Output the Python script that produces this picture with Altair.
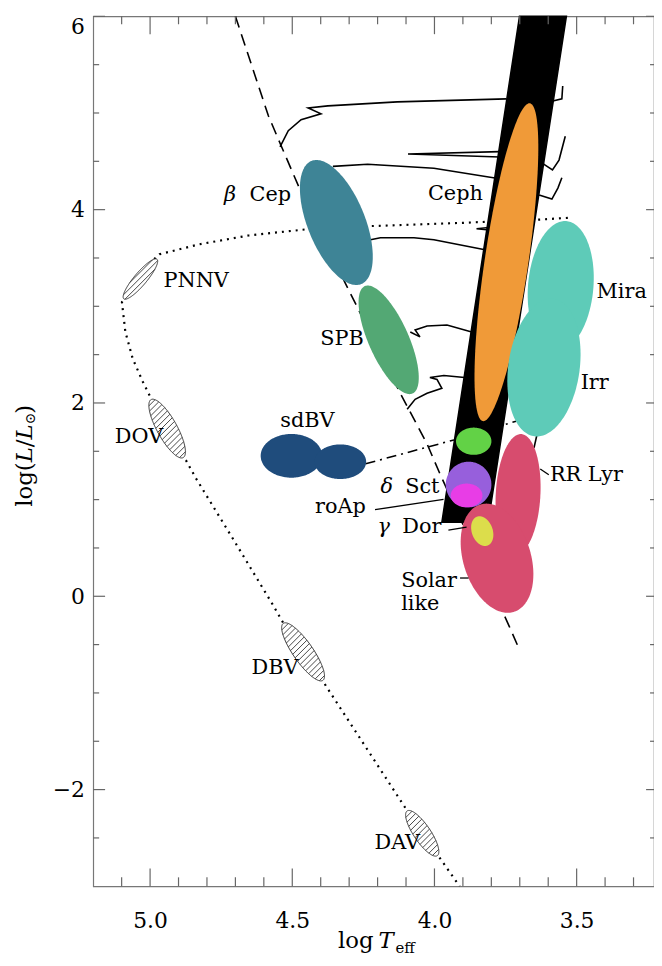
import altair as alt
import numpy as np
import pandas as pd

FONT = "DejaVu Serif"
W, H = 566, 878
T_MAX, T_MIN = 5.2, 3.228
L_MIN, L_MAX = -3.0, 6.0
KX = W / (T_MAX - T_MIN)
KY = H / (L_MAX - L_MIN)

XS = alt.Scale(domain=[T_MAX, T_MIN], nice=False, zero=False)
YS = alt.Scale(domain=[L_MIN, L_MAX], nice=False, zero=False)

# ---------------- axis ticks ----------------
x_major = [5.0, 4.5, 4.0, 3.5]
x_minor = [5.1, 4.9, 4.8, 4.7, 4.6, 4.4, 4.3, 4.2, 4.1, 3.9, 3.8, 3.7, 3.6, 3.4, 3.3]
y_major = [6, 4, 2, 0, -2]
y_minor = [5.5, 5, 4.5, 3.5, 3, 2.5, 1.5, 1, 0.5, -0.5, -1, -1.5, -2.5]

# ---------------- instability strip ----------------
strip_L = [0.766, 6.0]
strip_blue = [3.974, 3.701]
strip_red = [3.811, 3.536]

# ---------------- coloured regions (centre logT, logL, semi-axes in dex, tilt deg) ----------------
ell_name = ["bCep", "SPB", "Ceph", "Mira", "Irr", "sdBV1", "sdBV2", "RRLyr", "Solar",
            "green", "dSct", "roAp", "gDor"]
ell_T = [4.345, 4.161, 3.747, 3.556, 3.615, 4.503, 4.331, 3.706, 3.780, 3.862, 3.880, 3.887, 3.832]
ell_L = [3.867, 2.653, 3.456, 3.207, 2.366, 1.453, 1.392, 1.053, 0.394, 1.604, 1.156, 1.043, 0.674]
ell_a = [0.687, 0.608, 1.662, 0.677, 0.718, 0.226, 0.179, 0.626, 0.582, 0.141, 0.236, 0.123, 0.159]
ell_b = [0.297, 0.207, 0.226, 0.338, 0.369, 0.318, 0.267, 0.231, 0.349, 0.183, 0.236, 0.164, 0.108]
ell_tilt = [-22, -24, 8.4, 5, 8, 0, 0, 3, -17.5, 0, 0, 0, -20]
ell_color = ["#3e8496", "#53a874", "#f09a38", "#5ecbb8", "#5ecbb8", "#1f4c7c", "#1f4c7c",
             "#d74c6e", "#d74c6e", "#62d246", "#975fdc", "#e83de6", "#dcdd4b"]

# ---------------- hatched compact-pulsator regions ----------------
hat_name = ["PNNV", "DOV", "DBV", "DAV"]
hat_T = [5.034, 4.940, 4.462, 4.043]
hat_L = [3.282, 1.735, -0.575, -2.452]
hat_a = [0.267, 0.343, 0.359, 0.279]
hat_b = [0.065, 0.103, 0.103, 0.087]
hat_tilt = [40, -29, -34.8, -34]

# ---------------- lines ----------------
zams_T = [4.700, 4.584, 4.538, 4.472, 4.315, 4.120, 4.026, 3.981, 3.737, 3.702]
zams_L = [6.0, 4.971, 4.653, 4.202, 3.248, 2.099, 1.576, 1.269, -0.311, -0.547]

dot_T = [3.531, 3.632, 3.897, 4.225, 4.455, 4.653, 4.828, 4.967, 5.037, 5.099, 5.087, 5.061,
         5.026, 4.995, 4.943, 4.883, 4.873, 4.838, 4.706, 4.573, 4.531, 4.462, 4.392, 4.382,
         4.096, 4.044, 3.988, 3.922, 3.911]
dot_L = [3.915, 3.897, 3.864, 3.830, 3.795, 3.733, 3.641, 3.538, 3.351, 3.043, 2.736, 2.458,
         2.222, 2.038, 1.741, 1.433, 1.402, 1.217, 0.582, -0.065, -0.280, -0.578, -0.875, -0.926,
         -2.218, -2.454, -2.679, -2.956, -2.997]

hb_T = [4.242, 3.932, 3.713]
hb_L = [1.371, 1.617, 1.812]

tracks = {
    "A": ([4.543, 4.514, 4.469, 4.399, 4.444, 4.375, 4.131, 3.747],
          [4.650, 4.817, 4.930, 4.992, 5.053, 5.074, 5.115, 5.146]),
    "A2": ([3.584, 3.552, 3.549], [5.125, 5.146, 5.279]),
    "B": ([3.770, 4.093, 3.770], [4.600, 4.575, 4.545]),
    "C": ([4.357, 4.235, 4.002, 3.782], [4.448, 4.469, 4.428, 4.325]),
    "C2": ([3.620, 3.585, 3.562, 3.540], [4.479, 4.410, 4.513, 4.760]),
    "C3": ([3.632, 3.587, 3.566, 3.552], [4.151, 4.110, 4.223, 4.330]),
    "D": ([4.225, 4.190, 4.072, 4.002, 3.827], [3.689, 3.710, 3.710, 3.689, 3.587]),
    "D2": ([3.782, 3.852, 3.782], [3.823, 3.802, 3.782]),
    "E": ([4.085, 4.051, 4.068, 4.026, 3.956, 3.869], [2.735, 2.684, 2.756, 2.797, 2.807, 2.735]),
    "F": ([4.096, 4.068, 4.026, 3.974, 3.991, 4.016, 3.967, 3.894],
          [1.935, 2.038, 2.100, 2.151, 2.243, 2.264, 2.284, 2.264]),
    "G": ([3.748, 3.717], [1.496, 1.438]),
    "H": ([3.639, 3.650], [1.679, 1.536]),
}

lead_T1 = [4.209, 3.951, 3.910, 3.628]
lead_L1 = [0.896, 0.684, 0.189, 1.317]
lead_T2 = [3.968, 3.887, 3.880, 3.598]
lead_L2 = [1.002, 0.715, 0.189, 1.258]

lab_text = ["Cep", "Ceph", "PNNV", "DOV", "SPB", "sdBV", "Sct", "roAp", "Dor", "Solar", "like",
            "RR Lyr", "Mira", "Irr", "DBV", "DAV"]
lab_T = [4.650, 4.023, 4.953, 5.124, 4.402, 4.542, 4.103, 4.420, 4.113, 4.117, 4.117, 3.594,
         3.430, 3.486, 4.643, 4.211]
lab_L = [4.089, 4.099, 3.197, 1.587, 2.602, 1.756, 1.064, 0.858, 0.653, 0.100, -0.146, 1.197,
         3.083, 2.140, -0.803, -2.618]
greek_text = ["β", "δ", "γ"]
greek_T = [4.740, 4.190, 4.200]
greek_L = [4.089, 1.064, 0.653]

# ---------------- helpers ----------------
XAX = alt.Axis(values=x_major, format=".1f", ticks=False, tickSize=0, domain=False, grid=False,
               labelFont=FONT, labelFontSize=22, labelPadding=25, labelColor="black", title=None)
YAX = alt.Axis(values=y_major, format="d", ticks=False, tickSize=0, domain=False, grid=False,
               labelFont=FONT, labelFontSize=22, labelPadding=9, labelColor="black",
               labelFlush=True, title=None)


def X(f):
    return alt.X(f, type="quantitative", scale=XS, axis=XAX)


def Y(f):
    return alt.Y(f, type="quantitative", scale=YS, axis=YAX)


def quad(a, b, tilt):
    A_, B_ = a * KY, b * KY
    p = np.radians(tilt)
    s, c = np.sin(p), np.cos(p)
    m11 = s * s / A_ ** 2 + c * c / B_ ** 2
    m12 = s * c * (1 / B_ ** 2 - 1 / A_ ** 2)
    m22 = c * c / A_ ** 2 + s * s / B_ ** 2
    return np.array([[m11, m12], [m12, m22]]), A_, B_, s, c


def ellipse_df(t0, l0, a, b, tilt, n=90):
    M, A_, B_, s, c = quad(a, b, tilt)
    hh = np.sqrt(A_ ** 2 * c ** 2 + B_ ** 2 * s ** 2)
    rows = []
    for i in range(n + 1):
        dy = -hh * np.cos(np.pi * i / n)
        qa = M[0, 0]
        qb = 2 * dy * M[0, 1]
        qc = dy * dy * M[1, 1] - 1
        disc = max(qb * qb - 4 * qa * qc, 0.0)
        x1 = (-qb - np.sqrt(disc)) / (2 * qa)
        x2 = (-qb + np.sqrt(disc)) / (2 * qa)
        rows.append({"L": l0 - dy / KY, "t1": t0 - x1 / KX, "t2": t0 - x2 / KX})
    return pd.DataFrame(rows)


def hatch_df(t0, l0, a, b, tilt, gap=4.2):
    M, A_, B_, s, c = quad(a, b, tilt)
    d = np.array([1.0, -1.0]) / np.sqrt(2)
    nv = np.array([1.0, 1.0]) / np.sqrt(2)
    R = max(A_, B_)
    rows = []
    for k in np.arange(-R, R + gap, gap):
        p0 = k * nv
        qa = d @ M @ d
        qb = 2 * (p0 @ M @ d)
        qc = p0 @ M @ p0 - 1
        disc = qb * qb - 4 * qa * qc
        if disc <= 0:
            continue
        s1 = (-qb - np.sqrt(disc)) / (2 * qa)
        s2 = (-qb + np.sqrt(disc)) / (2 * qa)
        P1, P2 = p0 + s1 * d, p0 + s2 * d
        rows.append({"t1": t0 - P1[0] / KX, "L1": l0 - P1[1] / KY,
                     "t2": t0 - P2[0] / KX, "L2": l0 - P2[1] / KY})
    return pd.DataFrame(rows)


layers = []

# evolutionary tracks
trk_rows = []
for name, (tt, ll) in tracks.items():
    for i, (t, l) in enumerate(zip(tt, ll)):
        trk_rows.append({"id": name, "i": i, "T": t, "L": l})
layers.append(alt.Chart(pd.DataFrame(trk_rows)).mark_line(color="black", strokeWidth=1.6).encode(
    x=X("T"), y=Y("L"), detail="id:N", order="i:Q"))

# dotted PN / white dwarf track
layers.append(alt.Chart(pd.DataFrame({"T": dot_T, "L": dot_L, "i": range(len(dot_T))})).mark_line(
    color="black", strokeWidth=2.2, strokeDash=[2, 5]).encode(x=X("T"), y=Y("L"), order="i:Q"))

# dashed ZAMS
layers.append(alt.Chart(pd.DataFrame({"T": zams_T, "L": zams_L, "i": range(len(zams_T))})).mark_line(
    color="black", strokeWidth=1.6, strokeDash=[12, 7]).encode(x=X("T"), y=Y("L"), order="i:Q"))

# dash-dot horizontal branch
layers.append(alt.Chart(pd.DataFrame({"T": hb_T, "L": hb_L, "i": range(len(hb_T))})).mark_line(
    color="black", strokeWidth=1.6, strokeDash=[10, 5, 2, 5]).encode(x=X("T"), y=Y("L"), order="i:Q"))

# instability strip
layers.append(alt.Chart(pd.DataFrame({"L": strip_L, "t1": strip_blue, "t2": strip_red})).mark_area(
    orient="horizontal", color="black", fill="black", stroke="black", strokeWidth=1.5).encode(
    y=Y("L"), x=X("t1"), x2=alt.X2("t2")))

# coloured regions
for i in range(len(ell_name)):
    df = ellipse_df(ell_T[i], ell_L[i], ell_a[i], ell_b[i], ell_tilt[i])
    layers.append(alt.Chart(df).mark_area(orient="horizontal", color=ell_color[i], fill=ell_color[i],
                                          opacity=1).encode(y=Y("L"), x=X("t1"), x2=alt.X2("t2")))

# hatched regions
for i in range(len(hat_name)):
    df = ellipse_df(hat_T[i], hat_L[i], hat_a[i], hat_b[i], hat_tilt[i])
    layers.append(alt.Chart(df).mark_area(orient="horizontal", fill="white", stroke="#333",
                                          strokeWidth=1).encode(y=Y("L"), x=X("t1"), x2=alt.X2("t2")))
    hd = hatch_df(hat_T[i], hat_L[i], hat_a[i], hat_b[i], hat_tilt[i])
    layers.append(alt.Chart(hd).mark_rule(color="#333", strokeWidth=0.9).encode(
        x=X("t1"), y=Y("L1"), x2=alt.X2("t2"), y2=alt.Y2("L2")))

# leader lines
layers.append(alt.Chart(pd.DataFrame({"t1": lead_T1, "L1": lead_L1, "t2": lead_T2, "L2": lead_L2})).mark_rule(
    color="black", strokeWidth=1.3).encode(x=X("t1"), y=Y("L1"), x2=alt.X2("t2"), y2=alt.Y2("L2")))

# labels
layers.append(alt.Chart(pd.DataFrame({"text": lab_text, "T": lab_T, "L": lab_L})).mark_text(
    align="left", baseline="alphabetic", font=FONT, fontSize=21, color="black").encode(
    x=X("T"), y=Y("L"), text="text:N"))
layers.append(alt.Chart(pd.DataFrame({"text": greek_text, "T": greek_T, "L": greek_L})).mark_text(
    align="left", baseline="alphabetic", font=FONT, fontSize=21, fontStyle="italic", color="black").encode(
    x=X("T"), y=Y("L"), text="text:N"))

# ticks (inward)
TC = "#666"
xM = alt.Chart(pd.DataFrame({"v": x_major}))
xm = alt.Chart(pd.DataFrame({"v": x_minor}))
yM = alt.Chart(pd.DataFrame({"v": y_major}))
ym = alt.Chart(pd.DataFrame({"v": y_minor}))
layers += [
    xM.mark_rule(color=TC, strokeWidth=1.2).encode(x=X("v"), y=alt.value(H), y2=alt.value(H - 18)),
    xm.mark_rule(color=TC, strokeWidth=1.2).encode(x=X("v"), y=alt.value(H), y2=alt.value(H - 9)),
    xM.mark_rule(color=TC, strokeWidth=1.2).encode(x=X("v"), y=alt.value(0), y2=alt.value(18)),
    xm.mark_rule(color=TC, strokeWidth=1.2).encode(x=X("v"), y=alt.value(0), y2=alt.value(8)),
    yM.mark_rule(color=TC, strokeWidth=1.2).encode(y=Y("v"), x=alt.value(0), x2=alt.value(12)),
    ym.mark_rule(color=TC, strokeWidth=1.2).encode(y=Y("v"), x=alt.value(0), x2=alt.value(6)),
    yM.mark_rule(color=TC, strokeWidth=1.2).encode(y=Y("v"), x=alt.value(W), x2=alt.value(W - 8)),
    ym.mark_rule(color=TC, strokeWidth=1.2).encode(y=Y("v"), x=alt.value(W), x2=alt.value(W - 4)),
]

# axis titles built from text pieces
xt_text = ["log", "T", "eff"]
xt_x = [247, 288, 305]
xt_y = [940, 940, 945]
xt_size = [23, 23, 15]
xt_style = ["normal", "italic", "normal"]
for i in range(3):
    layers.append(alt.Chart(pd.DataFrame({"t": [xt_text[i]]})).mark_text(
        align="left", baseline="alphabetic", font=FONT, fontSize=xt_size[i], fontStyle=xt_style[i],
        color="black").encode(x=alt.value(xt_x[i]), y=alt.value(xt_y[i]), text="t:N"))

yt_text = ["log(", "L", "/", "L", "⊙", ")"]
yt_y = [495, 450, 435, 427, 412, 401]
yt_x = [-69, -69, -69, -69, -63, -69]
yt_size = [23, 23, 23, 23, 14, 23]
yt_style = ["normal", "italic", "normal", "italic", "normal", "normal"]
for i in range(len(yt_text)):
    layers.append(alt.Chart(pd.DataFrame({"t": [yt_text[i]]})).mark_text(
        align="left", baseline="middle", angle=270, font=FONT, fontSize=yt_size[i],
        fontStyle=yt_style[i], color="black").encode(
        x=alt.value(yt_x[i]), y=alt.value(yt_y[i]), text="t:N"))

chart = alt.layer(*layers).properties(
    width=W, height=H,
    autosize=alt.AutoSizeParams(type="none"),
    padding={"left": 86, "top": 4, "right": 0, "bottom": 68},
).configure_view(stroke="#777", strokeWidth=1.2)

chart.save("out.html", embed_options={"renderer": "svg", "actions": False})
